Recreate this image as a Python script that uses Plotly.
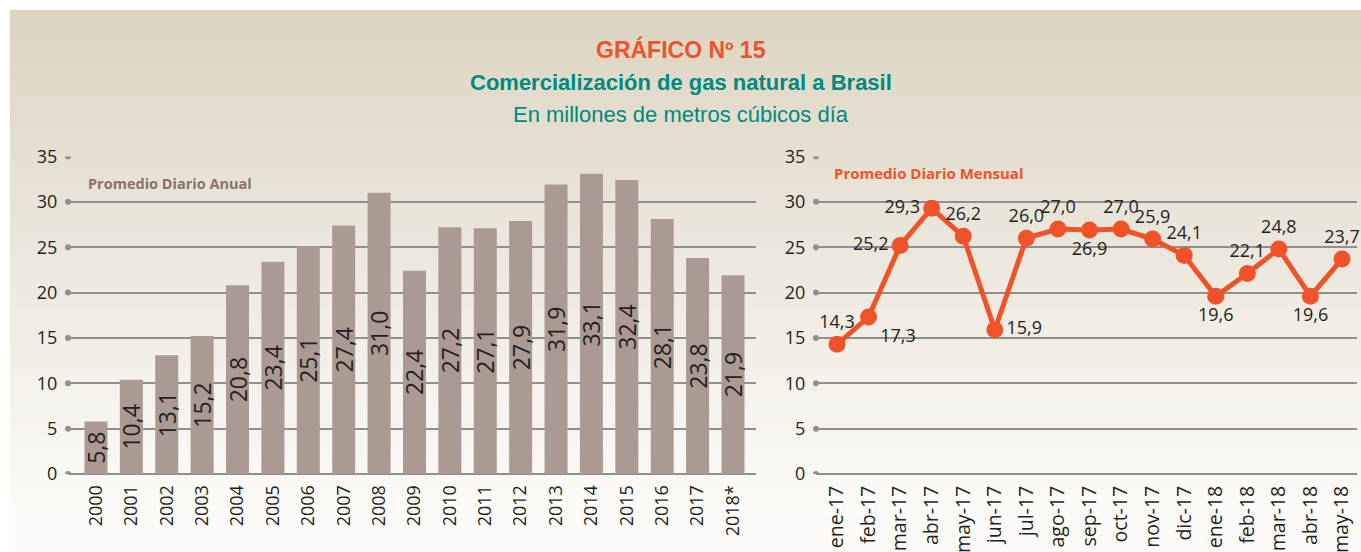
import plotly.graph_objects as go

# ---------------- data ----------------
years = ["2000", "2001", "2002", "2003", "2004", "2005", "2006", "2007", "2008", "2009",
         "2010", "2011", "2012", "2013", "2014", "2015", "2016", "2017", "2018*"]
annual = [5.8, 10.4, 13.1, 15.2, 20.8, 23.4, 25.1, 27.4, 31.0, 22.4,
          27.2, 27.1, 27.9, 31.9, 33.1, 32.4, 28.1, 23.8, 21.9]

months = ["ene-17", "feb-17", "mar-17", "abr-17", "may-17", "jun-17", "jul-17", "ago-17",
          "sep-17", "oct-17", "nov-17", "dic-17", "ene-18", "feb-18", "mar-18", "abr-18", "may-18"]
monthly = [14.3, 17.3, 25.2, 29.3, 26.2, 15.9, 26.0, 27.0, 26.9, 27.0,
           25.9, 24.1, 19.6, 22.1, 24.8, 19.6, 23.7]

y_ticks = [0, 5, 10, 15, 20, 25, 30, 35]

# label placement for the monthly series (style)
month_text_pos = ["top center", "bottom right", "middle left", "middle left", "top center", "middle right",
                  "top center", "top center", "bottom center", "top center", "top center",
                  "top center", "bottom center", "top center", "top center", "bottom center",
                  "top center"]

# ---------------- style ----------------
W, H = 1361, 552
FONT = "Open Sans"
TXT = "#231f20"
GRID = "#8f8f8f"
BAR = "#ab9a91"
ORANGE = "#f0532a"
TEAL = "#00897e"


def fmt(v):
    return f"{v:.1f}".replace(".", ",")


def px_x(p):
    return p / W


def px_y(p):
    return 1 - p / H


fig = go.Figure()

fig.add_trace(go.Bar(
    x=years, y=annual, xaxis="x", yaxis="y",
    marker=dict(color=BAR, line=dict(width=0)),
    text=[fmt(v) for v in annual],
    textposition="inside", insidetextanchor="middle", textangle=-90,
    constraintext="none",
    insidetextfont=dict(family=FONT, size=23, color=TXT),
    hoverinfo="skip", showlegend=False,
))

fig.add_trace(go.Scatter(
    x=months, y=monthly, xaxis="x2", yaxis="y2",
    mode="lines+markers+text",
    line=dict(color=ORANGE, width=5),
    marker=dict(color=ORANGE, size=17),
    text=[fmt(v) for v in monthly],
    textposition=month_text_pos,
    textfont=dict(family=FONT, size=18, color=TXT),
    cliponaxis=False,
    hoverinfo="skip", showlegend=False,
))

# background gradient panel
shapes = []
n = 60
top_c = (221, 213, 194)
bot_c = (252, 251, 249)
y_start, y_end = 10, H
for i in range(n):
    t = i / (n - 1)
    tt = min(1.0, t * 1.08)
    c = tuple(int(round(top_c[k] + (bot_c[k] - top_c[k]) * tt)) for k in range(3))
    y0 = y_start + (y_end - y_start) * i / n
    y1 = y_start + (y_end - y_start) * (i + 1) / n + 1
    shapes.append(dict(type="rect", xref="paper", yref="paper",
                       x0=px_x(10), x1=1, y0=px_y(min(y1, H)), y1=px_y(y0),
                       fillcolor="rgb(%d,%d,%d)" % c, line=dict(width=0), layer="below"))

# tick dots at the left of each gridline
for ax_ref, xpix in (("y", 68), ("y2", 816)):
    for v in y_ticks:
        shapes.append(dict(type="circle", xref="paper", yref=ax_ref,
                           xsizemode="pixel", ysizemode="pixel",
                           xanchor=px_x(xpix), yanchor=v,
                           x0=-3, x1=3, y0=-3, y1=3,
                           fillcolor=GRID, line=dict(width=0), layer="above"))

y_dom = [px_y(474), px_y(156.5)]
yaxis_common = dict(range=[0, 35], tickvals=y_ticks, showgrid=True, gridcolor=GRID, gridwidth=2,
                    zeroline=True, zerolinecolor=GRID, zerolinewidth=2, showline=False,
                    ticks="outside", ticklen=6, tickcolor="rgba(0,0,0,0)",
                    tickfont=dict(family=FONT, size=18, color=TXT),
                    domain=y_dom, automargin=False, fixedrange=True)
xaxis_common = dict(type="category", showgrid=False, zeroline=False, showline=False,
                    ticks="outside", ticklen=3, tickcolor="rgba(0,0,0,0)", tickangle=-90,
                    automargin=False, fixedrange=True)

annotations = [
    dict(text="<b>GRÁFICO Nº 15</b>", x=0.5, y=px_y(50), xref="paper", yref="paper",
         showarrow=False, font=dict(family="Liberation Sans", size=23, color=ORANGE),
         xanchor="center", yanchor="middle"),
    dict(text="<b>Comercialización de gas natural a Brasil</b>", x=0.5, y=px_y(82),
         xref="paper", yref="paper", showarrow=False,
         font=dict(family="Liberation Sans", size=22, color=TEAL),
         xanchor="center", yanchor="middle"),
    dict(text="En millones de metros cúbicos día", x=0.5, y=px_y(114),
         xref="paper", yref="paper", showarrow=False,
         font=dict(family="Liberation Sans", size=22, color=TEAL),
         xanchor="center", yanchor="middle"),
    dict(text="<b>Promedio Diario Anual</b>", x=px_x(86), y=px_y(183),
         xref="paper", yref="paper", showarrow=False,
         font=dict(family=FONT, size=14.5, color="#8b7167"),
         xanchor="left", yanchor="middle"),
    dict(text="<b>Promedio Diario Mensual</b>", x=px_x(832), y=px_y(173),
         xref="paper", yref="paper", showarrow=False,
         font=dict(family=FONT, size=15, color=ORANGE),
         xanchor="left", yanchor="middle"),
]

fig.update_layout(
    width=W, height=H,
    margin=dict(l=0, r=0, t=0, b=0),
    paper_bgcolor="white", plot_bgcolor="rgba(0,0,0,0)",
    bargap=0.35,
    xaxis=dict(xaxis_common, domain=[px_x(68), px_x(756)], range=[-0.79, 18.65],
               tickfont=dict(family=FONT, size=18, color=TXT)),
    yaxis=dict(yaxis_common, anchor="x"),
    xaxis2=dict(xaxis_common, domain=[px_x(816), px_x(1357)], range=[-0.665, 16.475],
                anchor="y2", tickfont=dict(family=FONT, size=19.5, color=TXT)),
    yaxis2=dict(yaxis_common, anchor="x2"),
    shapes=shapes,
    annotations=annotations,
    showlegend=False,
)

fig.write_html("out.html", config={"displayModeBar": False},
               post_script="document.body.style.margin='0';document.body.style.overflow='hidden';")
